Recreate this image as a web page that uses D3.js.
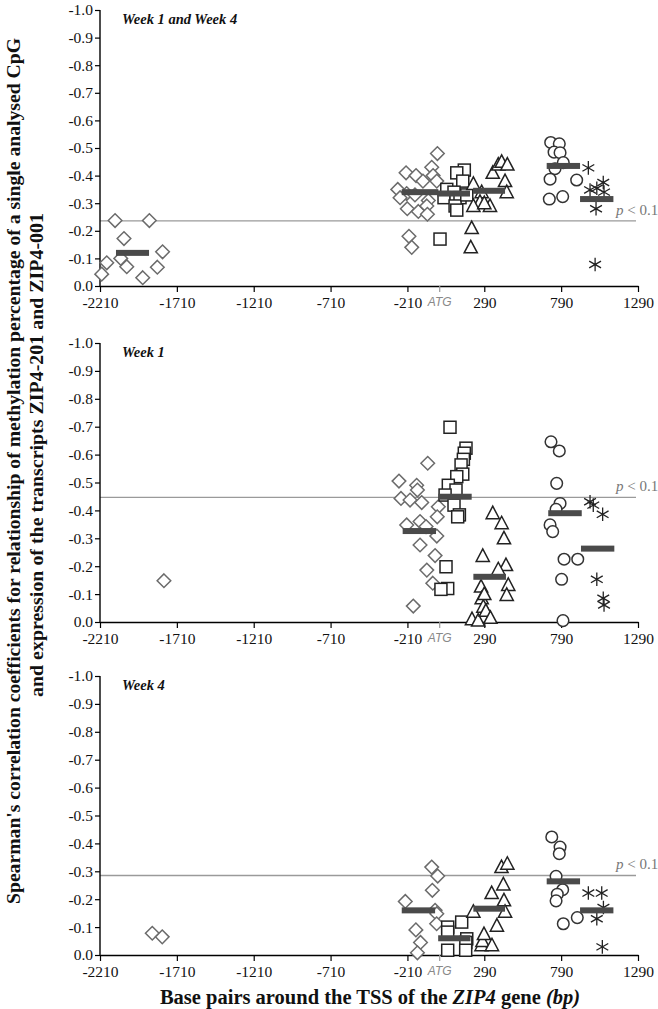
<!DOCTYPE html>
<html><head><meta charset="utf-8">
<script src="https://cdn.jsdelivr.net/npm/d3@7"></script>
<style>html,body{margin:0;padding:0;background:#fff;}</style>
</head><body>
<svg id="c" width="658" height="1009"></svg>
<script>
// ---------- data ----------
const xTicks = [-2210, -1710, -1210, -710, -210, 290, 790, 1290];
const yTicks = [0, -0.1, -0.2, -0.3, -0.4, -0.5, -0.6, -0.7, -0.8, -0.9, -1.0];
const panelTitles = ["Week 1 and Week 4", "Week 1", "Week 4"];
const pThresholds = [-0.236, -0.447, -0.285];
const atgPosition = 0;

// panel 1: Week 1 and Week 4  ([bp, r])
const p1Diamonds = [[-2199,-0.043],[-2166,-0.084],[-2112,-0.237],[-2075,-0.10],[-2054,-0.172],[-2036,-0.07],[-1932,-0.03],[-1889,-0.237],[-1837,-0.068],[-1803,-0.124],
  [-15,-0.48],[-219,-0.41],[-154,-0.40],[-52,-0.43],[-43,-0.40],[-19,-0.38],[-273,-0.35],[-109,-0.38],[-215,-0.335],[-258,-0.32],[-161,-0.33],[-74,-0.31],[-211,-0.28],[-139,-0.27],[-84,-0.29],[-80,-0.26],[-200,-0.18],[-182,-0.14]];
const p1Squares = [[160,-0.42],[111,-0.41],[150,-0.38],[46,-0.35],[93,-0.34],[28,-0.32],[106,-0.32],[132,-0.32],[100,-0.29],[111,-0.275],[2,-0.17],[176,-0.33]];
const p1Triangles = [[219,-0.37],[273,-0.34],[327,-0.29],[262,-0.305],[219,-0.29],[208,-0.21],[202,-0.14],[345,-0.41],[381,-0.44],[403,-0.45],[440,-0.44],[425,-0.38],[436,-0.34],[290,-0.30]];
const p1Circles = [[722,-0.52],[778,-0.515],[744,-0.485],[783,-0.483],[804,-0.447],[750,-0.425],[718,-0.387],[891,-0.384],[713,-0.315],[800,-0.324]];
const p1Asterisks = [[967,-0.428],[1064,-0.375],[978,-0.348],[1022,-0.354],[1069,-0.34],[1017,-0.28],[1011,-0.078]];
const p1Means = [[-2106,-1891,-0.12],[-247,-9,-0.34],[-17,197,-0.335],[217,425,-0.345],[696,913,-0.435],[913,1130,-0.315]];

// panel 2: Week 1
const p2Diamonds = [[-1794,-0.148],
  [-78,-0.569],[-265,-0.505],[-150,-0.49],[-145,-0.473],[-252,-0.443],[-193,-0.437],[-117,-0.428],[-9,-0.413],[-16,-0.377],[-215,-0.348],[-128,-0.36],[-89,-0.342],[-19,-0.308],[-128,-0.276],[-30,-0.238],[-84,-0.186],[-45,-0.139],[-172,-0.057]];
const p2Squares = [[67,-0.698],[171,-0.623],[160,-0.605],[154,-0.583],[139,-0.563],[150,-0.53],[111,-0.521],[56,-0.49],[106,-0.473],[35,-0.455],[93,-0.419],[128,-0.384],[117,-0.377],[41,-0.198],[52,-0.12],[8,-0.117]];
const p2Triangles = [[345,-0.39],[280,-0.237],[269,-0.127],[273,-0.085],[284,-0.055],[403,-0.354],[418,-0.30],[431,-0.204],[381,-0.189],[446,-0.133],[436,-0.097],[210,-0.01],[250,-0.005],[300,-0.04],[330,-0.015],[290,-0.10]];
const p2Circles = [[724,-0.646],[778,-0.613],[761,-0.497],[783,-0.425],[757,-0.404],[718,-0.348],[735,-0.324],[809,-0.225],[898,-0.225],[793,-0.153],[802,-0.005]];
const p2Asterisks = [[978,-0.431],[999,-0.419],[1060,-0.386],[1022,-0.153],[1064,-0.085],[1069,-0.061]];
const p2Means = [[-241,-24,-0.326],[-9,208,-0.449],[219,431,-0.162],[706,924,-0.39],[919,1136,-0.263]];

// panel 3: Week 4
const p3Diamonds = [[-1870,-0.078],[-1805,-0.065],
  [-224,-0.192],[-155,-0.09],[-125,-0.045],[-145,-0.008],[-52,-0.315],[-13,-0.283],[-48,-0.232],[-30,-0.16],[-19,-0.148],[-20,-0.112]];
const p3Squares = [[52,-0.10],[52,-0.082],[143,-0.118],[176,-0.058],[170,-0.045],[52,-0.017],[169,-0.017]];
const p3Triangles = [[219,-0.155],[272,-0.035],[278,-0.05],[288,-0.075],[340,-0.035],[338,-0.222],[372,-0.105],[402,-0.315],[440,-0.327],[414,-0.253],[418,-0.196],[425,-0.155]];
const p3Circles = [[729,-0.423],[783,-0.387],[778,-0.363],[757,-0.282],[800,-0.234],[765,-0.218],[757,-0.194],[895,-0.134],[804,-0.112]];
const p3Asterisks = [[967,-0.222],[1054,-0.222],[1065,-0.17],[1022,-0.13],[1058,-0.029]];
const p3Means = [[-247,-30,-0.16],[-10,200,-0.06],[219,425,-0.166],[696,913,-0.264],[913,1130,-0.16]];

const panelData = [
  {d:p1Diamonds,s:p1Squares,t:p1Triangles,c:p1Circles,a:p1Asterisks,m:p1Means},
  {d:p2Diamonds,s:p2Squares,t:p2Triangles,c:p2Circles,a:p2Asterisks,m:p2Means},
  {d:p3Diamonds,s:p3Squares,t:p3Triangles,c:p3Circles,a:p3Asterisks,m:p3Means}
];

// ---------- layout ----------
const left = 100, right = 638;
const panelTops = [10, 343, 676];
const panelBottoms = [286, 622, 955];
const svg = d3.select("#c");
const serif = "'Liberation Serif','Times New Roman',serif";
const fmt1 = d => d3.format(".1f")(d).replace("\u2212", "-");
const fmt0 = d => d3.format("d")(d).replace("\u2212", "-");

const x = d3.scaleLinear().domain([-2210, 1290]).range([left, right]);

panelData.forEach((pd, i) => {
  const top = panelTops[i], bottom = panelBottoms[i];
  const y = d3.scaleLinear().domain([0, -1]).range([bottom, top]);
  const g = svg.append("g");

  // threshold line
  g.append("line").attr("x1", left).attr("x2", right - 2)
    .attr("y1", y(pThresholds[i])).attr("y2", y(pThresholds[i]))
    .attr("stroke", "#9a9a9a").attr("stroke-width", 1.3);
  g.append("text").attr("x", 616).attr("y", y(pThresholds[i]) - 6)
    .attr("font-family", serif).attr("font-size", 15).attr("fill", "#777")
    .html("<tspan font-style='italic'>p</tspan> &lt; 0.1");

  // axes
  const yAxis = d3.axisLeft(y).tickValues(yTicks).tickSize(5).tickFormat(fmt1);
  const ya = g.append("g").attr("transform", `translate(${left},0)`).call(yAxis);
  ya.select(".domain").attr("d", `M-0,${top}V${bottom}`).attr("stroke-width", 1.4);
  ya.selectAll(".tick line").attr("stroke-width", 1.2);
  ya.selectAll("text").attr("font-family", serif).attr("font-size", 15.5).attr("fill", "#111").attr("x", -7);

  const xAxis = d3.axisBottom(x).tickValues(xTicks).tickSize(6).tickSizeOuter(0).tickFormat(fmt0);
  const xa = g.append("g").attr("transform", `translate(0,${bottom})`).call(xAxis);
  xa.select(".domain").attr("stroke-width", 1.4);
  xa.selectAll(".tick line").attr("stroke-width", 1.2);
  xa.selectAll("text").attr("font-family", serif).attr("font-size", 15.5).attr("fill", "#111").attr("dy", "0.85em");

  // ATG marker
  g.append("line").attr("x1", x(atgPosition)).attr("x2", x(atgPosition))
    .attr("y1", bottom).attr("y2", bottom + 6).attr("stroke", "#999").attr("stroke-width", 1.2);
  g.append("text").attr("x", x(atgPosition)).attr("y", bottom + 20)
    .attr("text-anchor", "middle").attr("font-family", "'Liberation Sans',Arial,sans-serif")
    .attr("font-style", "italic").attr("font-size", 12).attr("fill", "#888").text("ATG");

  // title
  g.append("text").attr("x", 122).attr("y", top + 14)
    .attr("font-family", serif).attr("font-weight", "bold").attr("font-style", "italic")
    .attr("font-size", 14.5).attr("fill", "#111").text(panelTitles[i]);

  const mk = g.append("g").attr("fill", "#fff").attr("stroke-width", 1.5);
  // diamonds
  mk.selectAll(".dia").data(pd.d).join("path")
    .attr("d", p => { const cx = x(p[0]), cy = y(p[1]), r = 6.8;
      return `M${cx},${cy-r}L${cx+r},${cy}L${cx},${cy+r}L${cx-r},${cy}Z`; })
    .attr("stroke", "#6b6b6b");
  // squares
  mk.selectAll(".sq").data(pd.s).join("rect")
    .attr("x", p => x(p[0]) - 6).attr("y", p => y(p[1]) - 6)
    .attr("width", 12).attr("height", 12).attr("stroke", "#222");
  // triangles
  mk.selectAll(".tri").data(pd.t).join("path")
    .attr("d", p => { const cx = x(p[0]), cy = y(p[1]);
      return `M${cx},${cy-7}L${cx+6.6},${cy+5.5}L${cx-6.6},${cy+5.5}Z`; })
    .attr("stroke", "#222");
  // circles
  mk.selectAll(".cir").data(pd.c).join("circle")
    .attr("cx", p => x(p[0])).attr("cy", p => y(p[1])).attr("r", 5.8).attr("stroke", "#333");
  // asterisks
  mk.selectAll(".ast").data(pd.a).join("path")
    .attr("d", p => { const cx = x(p[0]), cy = y(p[1]), r = 6.8, dx = r*0.87, dy = r*0.5;
      return `M${cx},${cy-r}V${cy+r}M${cx-dx},${cy-dy}L${cx+dx},${cy+dy}M${cx-dx},${cy+dy}L${cx+dx},${cy-dy}`; })
    .attr("stroke", "#222").attr("stroke-width", 1.3).attr("fill", "none");

  // mean bars
  g.selectAll(".mean").data(pd.m).join("rect")
    .attr("x", m => x(m[0])).attr("width", m => x(m[1]) - x(m[0]))
    .attr("y", m => y(m[2]) - 3).attr("height", 6).attr("fill", "#4a4a4a");
});

// axis titles
const yt = svg.append("g");
yt.append("text").attr("transform", "translate(20,471) rotate(-90)")
  .attr("text-anchor", "middle").attr("font-family", serif).attr("font-weight", "bold")
  .attr("font-size", 19).attr("fill", "#111")
  .attr("textLength", 866).attr("lengthAdjust", "spacingAndGlyphs")
  .text("Spearman's correlation coefficients for relationship of methylation percentage of a single analysed CpG");
yt.append("text").attr("transform", "translate(43,455) rotate(-90)")
  .attr("text-anchor", "middle").attr("font-family", serif).attr("font-weight", "bold")
  .attr("font-size", 19).attr("fill", "#111")
  .attr("textLength", 484).attr("lengthAdjust", "spacingAndGlyphs")
  .text("and expression of the transcripts ZIP4-201 and ZIP4-001");

svg.append("text").attr("x", 370).attr("y", 1004).attr("text-anchor", "middle")
  .attr("font-family", serif).attr("font-weight", "bold").attr("font-size", 20.5).attr("fill", "#111")
  .html("Base pairs around the TSS of the <tspan font-style='italic'>ZIP4</tspan> gene <tspan font-style='italic'>(bp)</tspan>");
</script>
</body></html>
